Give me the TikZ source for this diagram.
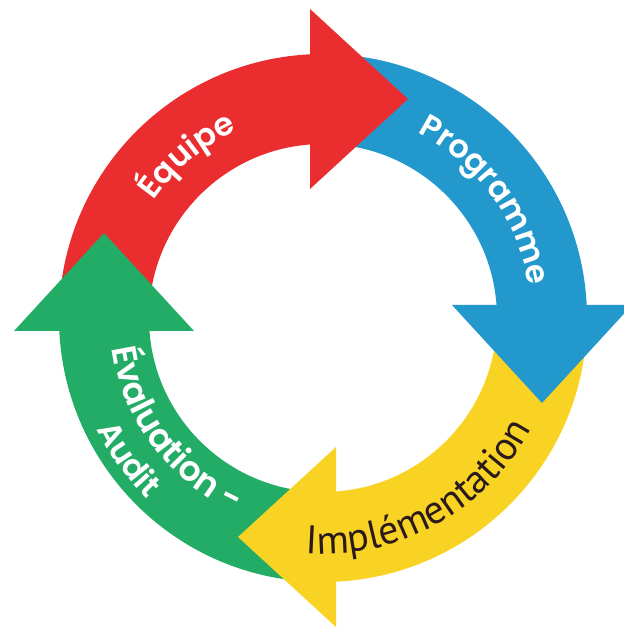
\documentclass[tikz,border=0pt]{standalone}
\usepackage{fontspec}
\newfontfamily\labelfont{Poppins SemiBold}
\newfontfamily\implfont{PT Sans}
\usetikzlibrary{decorations.text}

\definecolor{cycred}{HTML}{EA2D2E}
\definecolor{cycblue}{HTML}{2398CD}
\definecolor{cycyellow}{HTML}{F8D323}
\definecolor{cycgreen}{HTML}{22AC66}
\definecolor{cycdark}{HTML}{2B1A1D}

\tikzset{
    band/.style={line width=90pt},
    arcword/.style={decorate, decoration={text along path, text align=center, text={#1}}}
}

\begin{document}
\begin{tikzpicture}[x=1pt, y=1pt]
        \useasboundingbox (-323, -310) rectangle (300, 318);

        % draw ring
        \draw[band, cycred]    (180:219) arc (180:90:219);
        \draw[band, cycblue]   (90:219)  arc (90:0:219);
        \draw[band, cycyellow] (0:219)   arc (360:270:219);
        \draw[band, cycgreen]  (270:219) arc (270:180:219);

        % draw heads
        \fill[cycred]                (-13, 129) -- (-13, 309) -- (85, 219) -- cycle;
        \fill[cycblue, rotate=-90]   (-13, 129) -- (-13, 309) -- (85, 219) -- cycle;
        \fill[cycyellow, rotate=180] (-13, 129) -- (-13, 309) -- (85, 219) -- cycle;
        \fill[cycgreen, rotate=90]   (-13, 129) -- (-13, 309) -- (85, 219) -- cycle;

        % labels
        \path[arcword={|\labelfont\fontsize{32}{38}\selectfont\color{white}|Équipe}]
            (175:206) arc (175:85:206);
        \path[arcword={|\labelfont\fontsize{32}{38}\selectfont\color{white}|Programme}]
            (81:208) arc (81:-9:208);
        \path[arcword={|\implfont\fontsize{40}{46}\selectfont\color{cycdark}|Implémentation}]
            (246:236) arc (246:352:236);
        \path[arcword={|\labelfont\fontsize{34.5}{40}\selectfont\color{white}|Évaluation -}]
            (171:213) arc (171:263:213);
        \path[arcword={|\labelfont\fontsize{32}{38}\selectfont\color{white}|Audit}]
            (171:252) arc (171:261:252);

    \end{tikzpicture}
\end{document}
